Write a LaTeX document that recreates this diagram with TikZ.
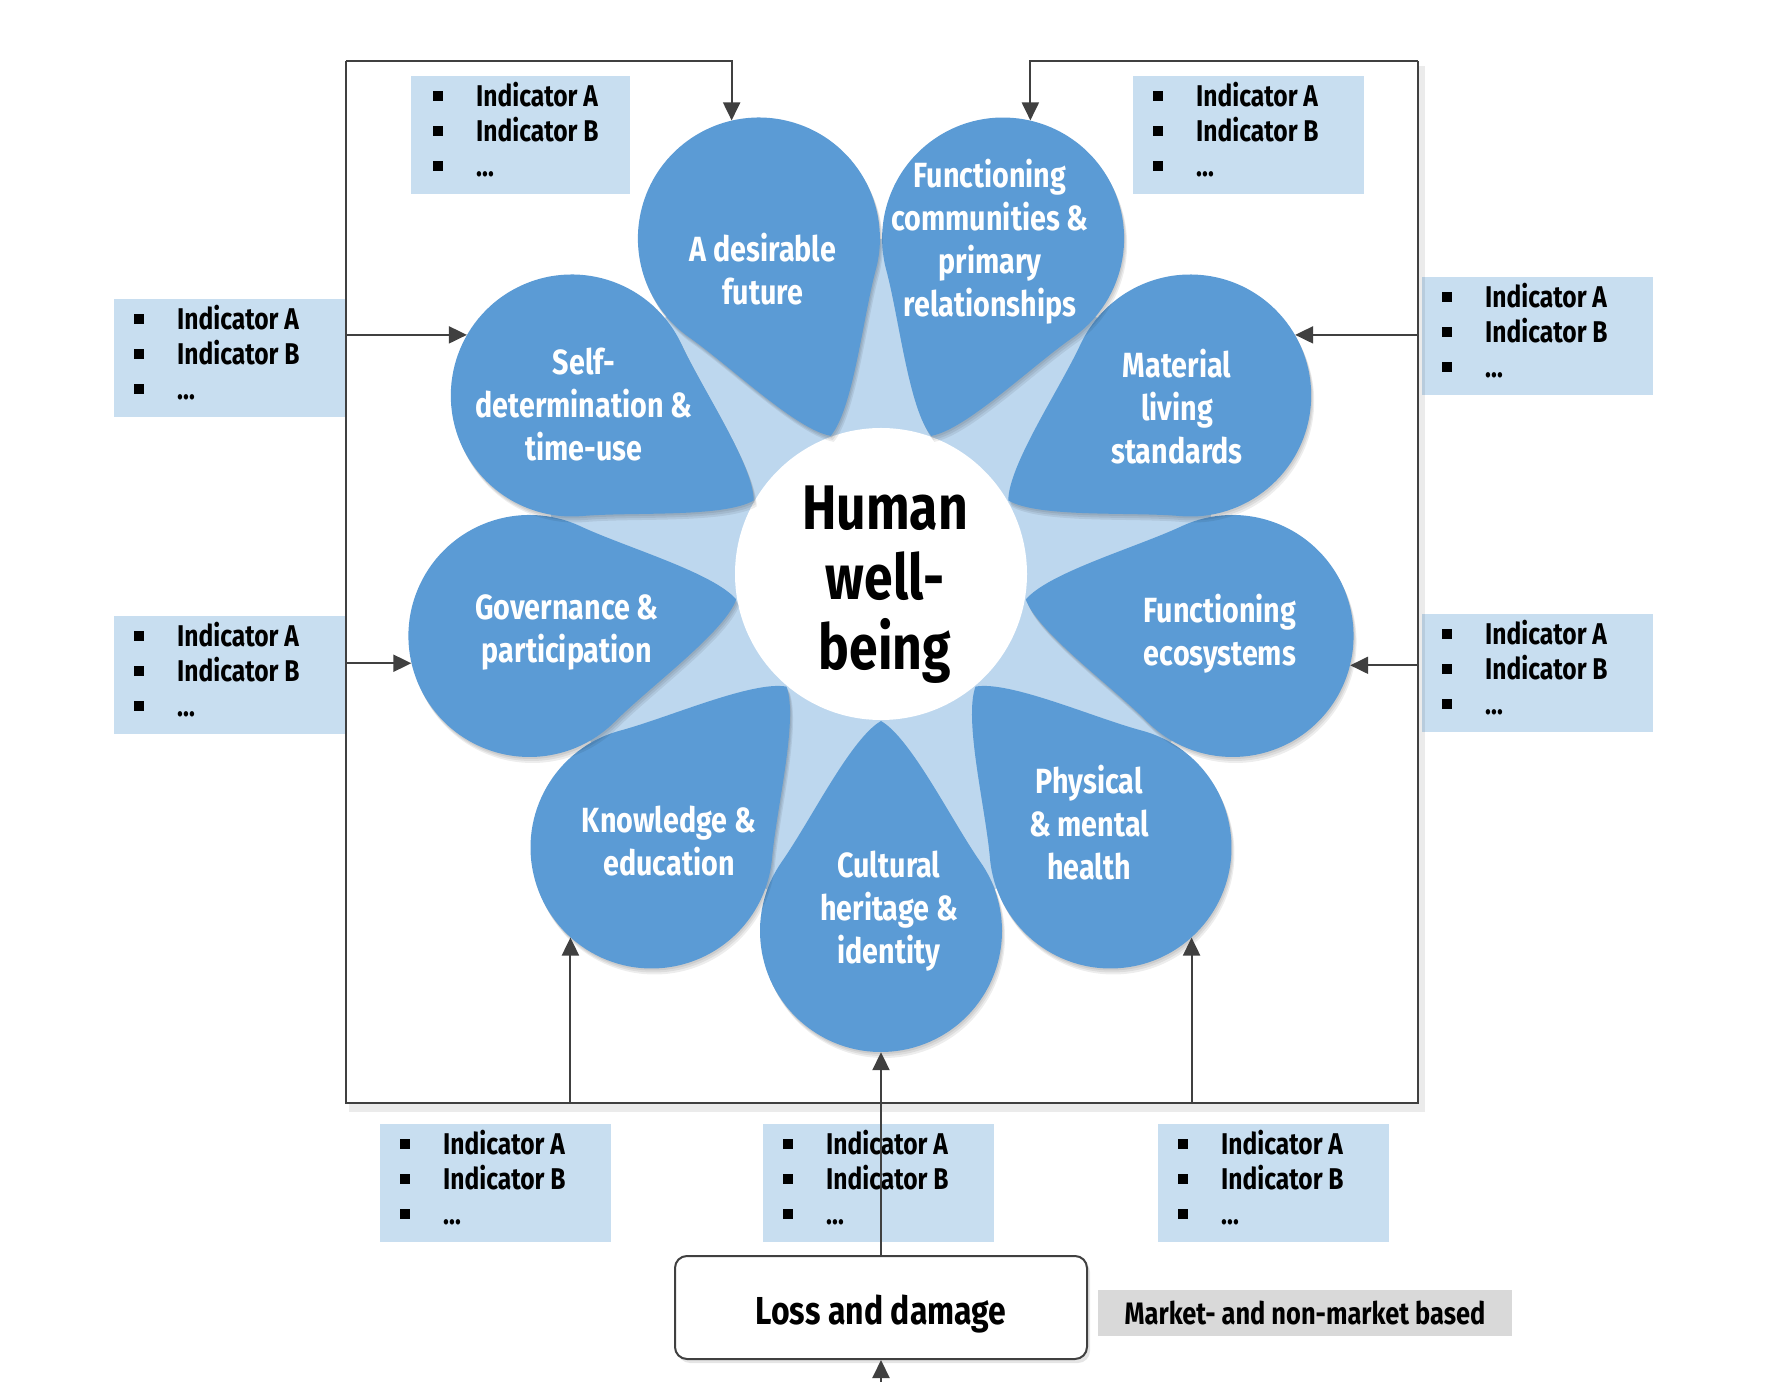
\documentclass[tikz,border=0pt]{standalone}
\usepackage{fontspec}
\setmainfont{Fira Sans}[FakeStretch=0.82]
\usetikzlibrary{arrows.meta,calc,shadows}
\definecolor{petalblue}{RGB}{91,155,213}
\definecolor{lightbg}{RGB}{189,215,238}
\definecolor{indblue}{RGB}{200,222,240}
\definecolor{mktgrey}{RGB}{217,217,217}
\definecolor{linegrey}{RGB}{64,64,64}
\newcommand\petalpath{(55:121) arc[start angle=55,end angle=305,radius=121pt] .. controls (110.4,-70.4) and (192.5,-30.3) .. (210,0) .. controls (192.5,30.3) and (110.4,70.4) .. (55:121) -- cycle}
\newcommand\petal[1]{%
  \foreach \s in {1,2,3}{%
    \fill[black,opacity=0.07,shift={($(881+\s,808-2*\s)+(#1:357)$)},rotate={#1+180}] \petalpath;}%
  \fill[petalblue,shift={($(881,808)+(#1:357)$)},rotate={#1+180}] \petalpath;}
\newcommand\bul{\makebox[43pt][l]{\raisebox{5.5pt}{\rule{10pt}{10pt}}}}
\newcommand\indlines{\bul Indicator A\\\bul Indicator B\\\bul …}
\newcommand\indfont{\bfseries\fontsize{30}{35}\selectfont}
\newcommand\petfont{\bfseries\fontsize{35}{43}\selectfont}
\begin{document}
\begin{tikzpicture}[x=1pt,y=1pt,
  indbox/.style={fill=indblue, inner sep=0, anchor=north west, minimum height=118pt},
  indtext/.style={font=\indfont, align=left, anchor=west, inner sep=0},
  pnode/.style={circle, minimum size=242pt, inner sep=0, draw=none},
  ptext/.style={font=\petfont, text=white, align=center, inner sep=0},
  frame/.style={draw=linegrey, line width=2.2pt},
  arr/.style={draw=linegrey, line width=2pt, -{Triangle[length=18pt,width=17pt]}},
  shadowline/.style={draw=black, opacity=0.08, line width=8pt}]
\fill[white] (0,0) rectangle (1772,1382);
\useasboundingbox (0,0) rectangle (1772,1382);

% indicator boxes
\node[indbox, minimum width=219pt] (iTL) at (411,1306) {};
\node[indtext] (iTLt) at ([xshift=22pt,yshift=6pt]iTL.west) {\indlines};
\node[indbox, minimum width=231pt] (iTR) at (1133,1306) {};
\node[indtext] (iTRt) at ([xshift=20pt,yshift=6pt]iTR.west) {\indlines};
\node[indbox, minimum width=231pt] (iLU) at (114,1083) {};
\node[indtext] (iLUt) at ([xshift=20pt,yshift=6pt]iLU.west) {\indlines};
\node[indbox, minimum width=231pt] (iLL) at (114,766) {};
\node[indtext] (iLLt) at ([xshift=20pt,yshift=6pt]iLL.west) {\indlines};
\node[indbox, minimum width=231pt] (iRU) at (1422,1105) {};
\node[indtext] (iRUt) at ([xshift=20pt,yshift=6pt]iRU.west) {\indlines};
\node[indbox, minimum width=231pt] (iRL) at (1422,768) {};
\node[indtext] (iRLt) at ([xshift=20pt,yshift=6pt]iRL.west) {\indlines};
\node[indbox, minimum width=231pt] (iBL) at (380,258) {};
\node[indtext] (iBLt) at ([xshift=20pt,yshift=6pt]iBL.west) {\indlines};
\node[indbox, minimum width=231pt] (iBM) at (763,258) {};
\node[indtext] (iBMt) at ([xshift=20pt,yshift=6pt]iBM.west) {\indlines};
\node[indbox, minimum width=231pt] (iBR) at (1158,258) {};
\node[indtext] (iBRt) at ([xshift=20pt,yshift=6pt]iBR.west) {\indlines};

% flower
\fill[lightbg] (881,808) circle[radius=335pt];
\fill[white] (881,808) circle[radius=146pt];
\petal{-90}
\petal{-50}
\petal{-10}
\petal{30}
\petal{70}
\petal{230}
\petal{190}
\petal{150}
\petal{110}

\path (881,808) ++(110:357) node[pnode] (p1) {};
\path (881,808) ++(70:357) node[pnode] (p2) {};
\path (881,808) ++(30:357) node[pnode] (p3) {};
\path (881,808) ++(-10:357) node[pnode] (p4) {};
\path (881,808) ++(-50:357) node[pnode] (p5) {};
\path (881,808) ++(-90:357) node[pnode] (p6) {};
\path (881,808) ++(230:357) node[pnode] (p7) {};
\path (881,808) ++(190:357) node[pnode] (p8) {};
\path (881,808) ++(150:357) node[pnode] (p9) {};

\node[ptext] (t1) at (763,1113) {A desirable\\future};
\node[ptext] (t2) at (990,1140) {Functioning\\communities \&\\primary\\relationships};
\node[ptext] (t3) at (1177,975) {Material\\living\\standards};
\node[ptext] (t4) at (1220,748) {Functioning\\ecosystems};
\node[ptext] (t5) at (1089,559) {Physical\\\& mental\\health};
\node[ptext] (t6) at (889,471) {Cultural\\heritage \&\\identity};
\node[ptext] (t7) at (669,541) {Knowledge \&\\education};
\node[ptext] (t8) at (567,750) {Governance \&\\participation};
\node[ptext] (t9) at (584,977) {Self-\\determination \&\\time-use};

\node[font=\bfseries\fontsize{63}{70}\selectfont, align=center, inner sep=0] (hw) at (885,797) {Human\\well-\\being};

% frame
\coordinate (TL) at (346,1321);
\coordinate (TR) at (1418,1321);
\coordinate (BL) at (346,279);
\coordinate (BR) at (1418,279);
\draw[shadowline] ([xshift=3pt,yshift=-5pt]BL) -- ([xshift=3pt,yshift=-5pt]BR) -- ([xshift=3pt,yshift=-5pt]TR);
\draw[frame] (TL) -- (BL) -- (BR) -- (TR);

% loss and damage
\node[draw=linegrey, line width=2pt, rounded corners=12pt, fill=white,
  minimum width=412pt, minimum height=103pt, text height=33pt, text depth=0pt,
  drop shadow={shadow xshift=3pt, shadow yshift=-4pt, opacity=0.2},
  font=\bfseries\fontsize{39}{44}\selectfont] (loss) at (881,74.5) {Loss and damage};
\node[fill=mktgrey, minimum width=414pt, minimum height=46pt, inner sep=0,
  font=\bfseries\fontsize{31}{36}\selectfont] (mkt) at (1305,69) {Market- and non-market based};
\coordinate (src) at (881,0);

% connectors
\draw[arr] (TL) -| (p1.103);
\draw[arr] (TR) -| (p2.77);
\draw[arr] (TL |- p9.150) -- (p9.150);
\draw[arr] (TL |- p8.193) -- (p8.193);
\draw[arr] (TR |- p3.30) -- (p3.30);
\draw[arr] (TR |- p4.346) -- (p4.346);
\draw[arr] (BL -| p7.228) -- (p7.228);
\draw[arr] (BR -| p5.312) -- (p5.312);
\draw[arr] (loss.north) -- (p6.south);
\draw[arr] (src) -- (loss.south);
\end{tikzpicture}
\end{document}
